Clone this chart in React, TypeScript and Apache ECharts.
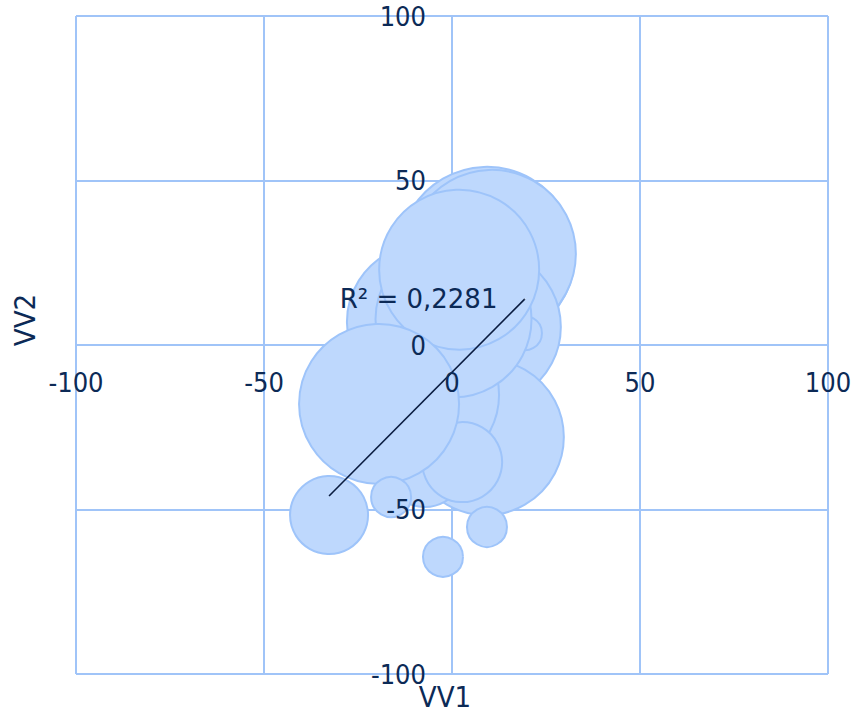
import React, { useEffect, useRef } from "react";
import * as echarts from "echarts";

// Bubble data (drawn back to front)
const vv1 = [9.3, 10.6, 8.2, -7.2, 19.4, 9.0, -7.7, 0.4, 1.9, -7.2, 2.7, -19.4, -16.2, -32.7, 9.3, -2.4];
const vv2 = [27.4, 27.7, 5.5, 7.0, 3.6, -28.0, -15.2, 7.8, 22.9, -37.1, -35.6, -17.9, -46.2, -51.7, -55.3, -64.4];
const bubbleSize = [88, 84, 78, 78, 17, 78, 76, 78, 80, 40, 40, 80, 20, 39, 20, 20];

// Linear trend line
const trendSlope = 1.15;
const trendIntercept = -8.3;
const trendLabel = "R² = 0,2281";

// Axes
const axisMin = -100;
const axisMax = 100;
const axisStep = 50;
const xName = "VV1";
const yName = "VV2";

const TEXT = "#0c2a56";
const GRID = "#a0c4f8";
const FILL = "#bed8fd";
const EDGE = "#9ec4fa";
const FONT = "DejaVu Sans";
const FONT_C = '"DejaVu Sans Condensed", "DejaVu Sans"';

const W = 856;
const H = 711;
const G = { left: 76, right: 28, top: 16, bottom: 37 };

export default function App() {
  const ref = useRef<HTMLDivElement>(null);
  useEffect(() => {
    if (!ref.current) return;
    const chart = echarts.init(ref.current, undefined, { renderer: "svg" });
    const pts = vv1.map((x, i) => [x, vv2[i], bubbleSize[i]]);
    const minX = Math.min(...vv1);
    const maxX = Math.max(...vv1);
    const trend = [
      [minX, trendSlope * minX + trendIntercept],
      [maxX, trendSlope * maxX + trendIntercept],
    ];
    const gridW = W - G.left - G.right;
    const gridH = H - G.top - G.bottom;
    const zeroFrac = (0 - axisMin) / (axisMax - axisMin);
    const xLabelOffset = -zeroFrac * gridH; // move bottom axis up to y = 0
    const yLabelOffset = -zeroFrac * gridW; // move left axis right to x = 0

    const baseAxis = {
      type: "value" as const,
      min: axisMin,
      max: axisMax,
      interval: axisStep,
    };
    const gridAxis = (gridIndex: number) => ({
      ...baseAxis,
      gridIndex,
      z: 0,
      axisLine: { show: true, onZero: true, lineStyle: { color: GRID, width: 2 } },
      axisTick: { show: false },
      axisLabel: { show: false },
      splitLine: { show: true, lineStyle: { color: GRID, width: 2 } },
    });
    const labelAxis = (gridIndex: number, offset: number, margin: number) => ({
      ...baseAxis,
      gridIndex,
      z: 10,
      offset,
      axisLine: { show: false, onZero: false },
      axisTick: { show: false },
      splitLine: { show: false },
      axisLabel: {
        show: true,
        color: TEXT,
        fontFamily: FONT_C,
        fontSize: 27,
        margin,
        showMinLabel: true,
        showMaxLabel: true,
        hideOverlap: false,
      },
    });
    const gridRect = { ...G, containLabel: false, outerBoundsMode: "none" };
    chart.setOption({
      animation: false,
      grid: [
        { ...gridRect, z: 0 },
        { ...gridRect, z: 10 },
      ],
      xAxis: [
        { ...gridAxis(0), position: "bottom" },
        { ...labelAxis(1, xLabelOffset, 24), position: "bottom" },
      ],
      yAxis: [
        { ...gridAxis(0), position: "left" },
        { ...labelAxis(1, yLabelOffset, 26), position: "left" },
      ],
      series: [
        {
          type: "scatter",
          xAxisIndex: 0,
          yAxisIndex: 0,
          data: pts,
          symbol: "circle",
          symbolSize: (v: number[]) => v[2] * 2,
          itemStyle: { color: FILL, borderColor: EDGE, borderWidth: 2, opacity: 1 },
          emphasis: { disabled: true },
          z: 2,
        },
        {
          type: "line",
          xAxisIndex: 0,
          yAxisIndex: 0,
          data: trend,
          symbol: "none",
          lineStyle: { color: "#0a1c40", width: 1.6 },
          emphasis: { disabled: true },
          z: 4,
        },
        {
          type: "scatter",
          xAxisIndex: 0,
          yAxisIndex: 0,
          data: [trend[1]],
          symbolSize: 1,
          itemStyle: { color: "#ffffff", opacity: 1, borderWidth: 0 },
          emphasis: { disabled: true },
          label: {
            show: true,
            position: "left",
            distance: 27,
            formatter: trendLabel,
            color: TEXT,
            opacity: 1,
            textBorderWidth: 0,
            fontFamily: FONT,
            fontSize: 26,
          },
          z: 6,
        },
      ],
      graphic: [
        {
          type: "text",
          x: 445,
          y: 697,
          z: 20,
          style: {
            text: xName,
            fill: TEXT,
            font: `29px ${FONT_C}`,
            align: "center",
            verticalAlign: "middle",
          },
        },
        {
          type: "text",
          x: 25,
          y: 320,
          rotation: Math.PI / 2,
          z: 20,
          style: {
            text: yName,
            fill: TEXT,
            font: `29px ${FONT_C}`,
            align: "center",
            verticalAlign: "middle",
          },
        },
      ],
    });
    return () => chart.dispose();
  }, []);
  return (
    <div
      ref={ref}
      style={{ position: "fixed", left: 0, top: 0, width: W, height: H, background: "#fff" }}
    />
  );
}
